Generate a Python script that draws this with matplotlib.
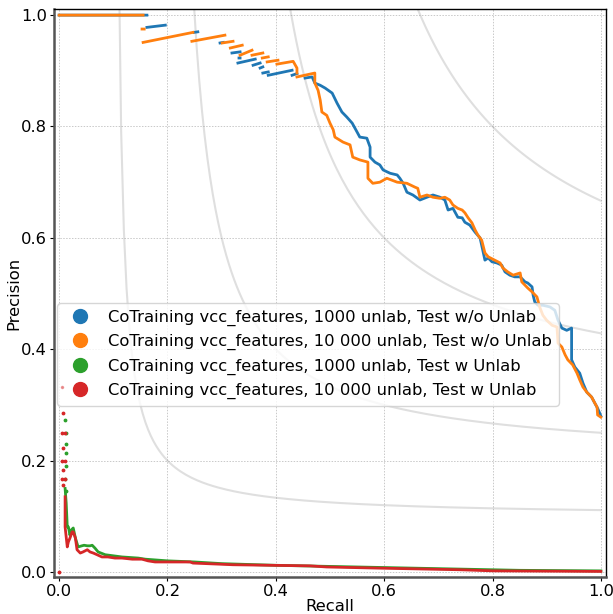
import numpy as np
import matplotlib
matplotlib.use("Agg")
import matplotlib.pyplot as plt
from matplotlib.lines import Line2D

nan = np.nan

labels = [
    "CoTraining vcc_features, 1000 unlab, Test w/o Unlab",
    "CoTraining vcc_features, 10 000 unlab, Test w/o Unlab",
    "CoTraining vcc_features, 1000 unlab, Test w Unlab",
    "CoTraining vcc_features, 10 000 unlab, Test w Unlab",
]
colors = ["#1f77b4", "#ff7f0e", "#2ca02c", "#d62728"]

f_scores = [0.2, 0.4, 0.6, 0.8]

# Series 1: 1000 unlab, Test w/o Unlab (NaN separates disjoint runs)
blue_recall = [0.0, 0.162, nan, 0.162, 0.196, nan, 0.249, 0.256, nan, 0.297, 0.303, nan,
               0.319, 0.334, nan, 0.330, 0.362, nan, 0.332, 0.334, nan, 0.358, 0.371, nan,
               0.371, 0.376, nan, 0.376, 0.386, nan, 0.386, 0.430, nan, 0.430, 0.439, nan,
               0.454, 0.467, 0.472, 0.482, 0.491, 0.504, 0.513, 0.522, 0.531, 0.541, 0.550,
               0.555, 0.568, 0.574, 0.574, 0.583, 0.592, 0.598, 0.611, 0.624, 0.629, 0.635,
               0.642, 0.653, 0.666, 0.679, 0.690, 0.703, 0.712, 0.718, 0.727, 0.736, 0.744,
               0.749, 0.758, 0.768, 0.777, 0.782, 0.786, 0.792, 0.799, 0.808, 0.817, 0.823,
               0.832, 0.841, 0.851, 0.860, 0.865, 0.873, 0.875, 0.878, 0.884, 0.893, 0.906,
               0.915, 0.921, 0.928, 0.937, 0.946, 0.946, 0.946, 0.952, 0.961, 0.967, 0.974,
               0.983, 0.989, 0.994, 0.998, 1.0]
blue_precision = [1.0, 1.0, nan, 0.978, 0.982, nan, 0.969, 0.970, nan, 0.950, 0.951, nan,
                  0.932, 0.934, nan, 0.914, 0.921, nan, 0.923, 0.923, nan, 0.910, 0.914, nan,
                  0.905, 0.907, nan, 0.896, 0.898, nan, 0.892, 0.901, nan, 0.892, 0.895, nan,
                  0.887, 0.889, 0.878, 0.874, 0.869, 0.860, 0.842, 0.826, 0.817, 0.806, 0.790,
                  0.781, 0.779, 0.763, 0.745, 0.736, 0.731, 0.722, 0.716, 0.713, 0.707, 0.698,
                  0.682, 0.677, 0.668, 0.673, 0.677, 0.673, 0.668, 0.650, 0.653, 0.637, 0.636,
                  0.628, 0.623, 0.610, 0.600, 0.578, 0.560, 0.564, 0.557, 0.555, 0.551, 0.539,
                  0.533, 0.530, 0.530, 0.521, 0.519, 0.512, 0.497, 0.485, 0.479, 0.479, 0.476,
                  0.470, 0.452, 0.438, 0.434, 0.438, 0.422, 0.381, 0.368, 0.357, 0.339, 0.323,
                  0.314, 0.303, 0.294, 0.285, 0.280]

# Series 2: 10 000 unlab, Test w/o Unlab
orange_recall = [0.0, 0.155, nan, 0.153, 0.157, nan, 0.155, 0.247, nan, 0.245, 0.306, nan,
                 0.301, 0.321, nan, 0.316, 0.338, nan, 0.334, 0.356, nan, 0.356, 0.376, nan,
                 0.375, 0.386, nan, 0.384, 0.404, nan, 0.402, 0.432, 0.439, 0.439, nan,
                 0.439, 0.472, 0.472, 0.478, 0.482, 0.485, 0.494, 0.500, 0.506, 0.509, 0.524,
                 0.537, 0.542, 0.555, 0.570, 0.570, 0.579, 0.592, 0.605, 0.624, 0.642, 0.657,
                 0.662, 0.666, 0.679, 0.690, 0.703, 0.712, 0.721, 0.727, 0.736, 0.744, 0.749,
                 0.755, 0.762, 0.768, 0.773, 0.780, 0.786, 0.792, 0.804, 0.814, 0.819, 0.828,
                 0.838, 0.851, 0.854, 0.865, 0.873, 0.882, 0.887, 0.893, 0.900, 0.910, 0.919,
                 0.921, 0.928, 0.934, 0.939, 0.948, 0.956, 0.961, 0.967, 0.974, 0.983, 0.989,
                 0.993, 0.994, 1.0]
orange_precision = [1.0, 1.0, nan, 0.975, 0.975, nan, 0.951, 0.969, nan, 0.953, 0.964, nan,
                    0.950, 0.953, nan, 0.941, 0.946, nan, 0.928, 0.937, nan, 0.928, 0.932, nan,
                    0.923, 0.925, nan, 0.916, 0.919, nan, 0.912, 0.917, 0.905, 0.896, nan,
                    0.889, 0.896, 0.878, 0.865, 0.847, 0.826, 0.820, 0.806, 0.794, 0.781, 0.772,
                    0.767, 0.745, 0.740, 0.736, 0.707, 0.698, 0.700, 0.707, 0.700, 0.698, 0.691,
                    0.689, 0.673, 0.677, 0.673, 0.671, 0.673, 0.668, 0.659, 0.653, 0.650, 0.645,
                    0.636, 0.627, 0.614, 0.605, 0.596, 0.573, 0.566, 0.560, 0.555, 0.546, 0.539,
                    0.533, 0.537, 0.521, 0.510, 0.503, 0.494, 0.476, 0.461, 0.452, 0.443, 0.440,
                    0.411, 0.404, 0.390, 0.381, 0.372, 0.357, 0.345, 0.332, 0.323, 0.314, 0.303,
                    0.296, 0.282, 0.278]

# Series 3: 1000 unlab, Test w Unlab
green_recall = [0.011, 0.013, 0.015, 0.017, 0.020, 0.022, 0.026, 0.030, 0.035, 0.042, 0.046,
                0.052, 0.057, 0.061, 0.066, 0.072, 0.085, 0.116, 0.146, 0.159, 0.200, 0.250,
                0.300, 0.400, 0.500, 0.700, 0.850, 1.0]
green_precision = [0.150, 0.124, 0.081, 0.081, 0.066, 0.075, 0.079, 0.061, 0.045, 0.047,
                   0.048, 0.047, 0.047, 0.048, 0.043, 0.036, 0.031, 0.027, 0.025, 0.023,
                   0.020, 0.018, 0.015, 0.012, 0.010, 0.006, 0.003, 0.002]
green_pts_recall = [0.011, 0.013, 0.013, 0.013, 0.013, 0.011, 0.013]
green_pts_precision = [0.273, 0.250, 0.230, 0.213, 0.190, 0.167, 0.145]

# Series 4: 10 000 unlab, Test w Unlab
red_recall = [0.011, 0.011, 0.015, 0.017, 0.020, 0.024, 0.026, 0.030, 0.033, 0.039, 0.044,
              0.052, 0.057, 0.063, 0.070, 0.079, 0.090, 0.103, 0.116, 0.135, 0.153, 0.164,
              0.177, 0.242, 0.247, 0.297, 0.321, 0.463, 0.494, 0.587, 0.740, 0.801, 1.0]
red_precision = [0.135, 0.081, 0.045, 0.054, 0.061, 0.072, 0.072, 0.061, 0.040, 0.034,
                 0.036, 0.040, 0.036, 0.034, 0.031, 0.027, 0.027, 0.025, 0.025, 0.023,
                 0.023, 0.020, 0.018, 0.018, 0.016, 0.014, 0.013, 0.011, 0.009, 0.007,
                 0.004, 0.002, 0.001]
red_pts_recall = [0.007, 0.005, 0.011, 0.007, 0.005, 0.011, 0.007, 0.005, 0.011, 0.007, 0.0]
red_pts_precision = [0.285, 0.250, 0.250, 0.223, 0.200, 0.200, 0.183, 0.167, 0.167, 0.156, 0.0]
red_faint_recall = [0.005]
red_faint_precision = [0.333]

FS = 11.8

fig = plt.figure(figsize=(6.13, 6.14), dpi=100)
ax = fig.add_axes([54 / 613, (614 - 577) / 614, 552 / 613, 568 / 614])

# iso-F1 curves
for f in f_scores:
    x = np.linspace(0.01, 1, 200)
    y = f * x / (2 * x - f)
    m = y >= 0
    ax.plot(x[m], y[m], color="gray", alpha=0.25, lw=1.5, zorder=1)

lw = 2.0
ax.plot(blue_recall, blue_precision, color=colors[0], lw=lw, zorder=3)
ax.plot(orange_recall, orange_precision, color=colors[1], lw=lw, zorder=4)
ax.plot(green_recall, green_precision, color=colors[2], lw=lw, zorder=5)
ax.plot(green_pts_recall, green_pts_precision, ".", color=colors[2], ms=3.5, zorder=5)
ax.plot(red_recall, red_precision, color=colors[3], lw=lw, zorder=6)
ax.plot(red_pts_recall, red_pts_precision, ".", color=colors[3], ms=3.5, zorder=6)
ax.plot(red_faint_recall, red_faint_precision, ".", color=colors[3], ms=3, alpha=0.4, zorder=6)

ax.set_xlim(-0.0095, 1.0095)
ax.set_ylim(-0.009, 1.011)
ax.set_xticks([0.0, 0.2, 0.4, 0.6, 0.8, 1.0])
ax.set_yticks([0.0, 0.2, 0.4, 0.6, 0.8, 1.0])
ax.tick_params(labelsize=FS, pad=2, length=3)
ax.grid(True, color="#bbbbbb", linestyle=(0, (1.5, 1.5)), lw=0.7, alpha=0.8)
ax.set_axisbelow(True)
ax.set_xlabel("Recall", fontsize=FS, labelpad=0)
ax.set_ylabel("Precision", fontsize=FS, labelpad=0)

for s in ["left", "bottom"]:
    ax.spines[s].set_color("#555555")
    ax.spines[s].set_linewidth(1.8)
for s in ["top", "right"]:
    ax.spines[s].set_color("black")
    ax.spines[s].set_linewidth(1.0)

handles = [Line2D([], [], marker="o", ls="none", color=c, markersize=10) for c in colors]
ax.legend(handles, labels, loc="upper left", bbox_to_anchor=(0.006, 0.482),
          borderaxespad=0, fontsize=FS, framealpha=0.8, handletextpad=0.7)

fig.savefig("out.png", dpi=100)
